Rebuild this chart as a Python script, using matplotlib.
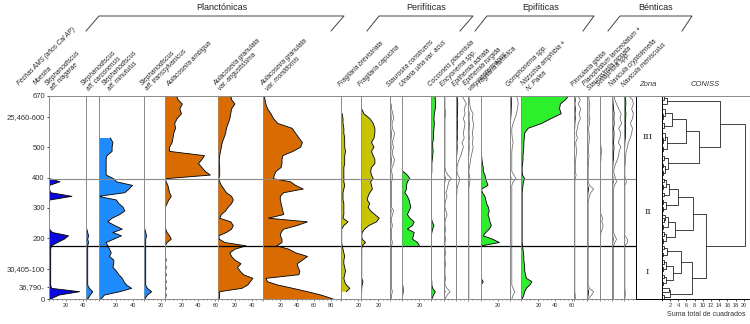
import numpy as np
import matplotlib
matplotlib.use("Agg")
import matplotlib.pyplot as plt
from matplotlib.lines import Line2D

plt.rcParams['font.family'] = ['Liberation Sans', 'DejaVu Sans']

nan = np.nan

# sample depths (cm)
depth = [0, 13, 24, 35, 46, 57, 68, 80, 92,
         104, 116, 128, 140, 152, 164, 175, 186, 197,
         208, 219, 230, 242, 254, 266, 278, 290, 302,
         314, 326, 338, 350, 362, 374, 386, 396, 408,
         420, 433, 446, 459, 472, 486, 500, 515, 530,
         546, 562, 578, 594, 610, 626, 642, 656, 670]

age_ticks = [0, 40, 100, 200, 300, 400, 500, 600, 670]
age_labels = ["0", "36,790-", "30,405-100", "200", "300", "400", "500", "25,460-600", "670"]

zone_bounds = [175, 395]
zone_names = ["I", "II", "III"]

# relative abundances (%)
s_niagarae = [2, 12, 36, 3, 2, 2, 2, 2, 2,
              2, 2, 2, 2, 2, 2, 3, 10, 18,
              23, 4, 0.5, nan, nan, nan, 0.5, 0.5, 0.5,
              0.5, 1, 27, 2, 0.5, 0.5, 13, 1, nan,
              nan, nan, nan, nan, nan, nan, nan, nan, nan,
              nan, nan, nan, nan, nan, nan, nan, nan, nan]
s_carconensis = [2, 5, 8, 4, 2, 2, 2, 2, 2,
                 2, 2, 2, 2, 2, 2, 2, 3, 2,
                 3, 2, 1, nan, nan, nan, nan, nan, nan,
                 nan, nan, nan, nan, nan, nan, nan, nan, nan,
                 nan, nan, nan, nan, nan, nan, nan, nan, nan,
                 nan, nan, nan, nan, nan, nan, nan, nan, nan]
s_minutulus = [3, 7, 25, 39, 33, 30, 28, 24, 21,
               17, 18, 18, 13, 15, 13, 11, 9, 18,
               27, 17, 28, 19, 11, 16, 25, 31, 29,
               24, 21, 0, 31, 36, 40, 21, 18, 9,
               9, 9, 9, 9, 10, 16, 16, 17, 14,
               nan, nan, nan, nan, nan, nan, nan, nan, nan]
s_transsylvanicus = [1, 4, 9, 4, 2, 2, 2, 2, 2,
                     2, 2, 2, 2, 2, 2, 2, 2, 2,
                     3, 2, 1, nan, nan, nan, nan, nan, nan,
                     nan, nan, nan, nan, nan, nan, nan, nan, nan,
                     nan, nan, nan, nan, nan, nan, nan, nan, nan,
                     nan, nan, nan, nan, nan, nan, nan, nan, nan]
a_ambigua = [1, 2, 1, 2, 1, 2, 1, 2, 1,
             2, 1, 2, 1, 1, 1, 1, 3, 8,
             6, 3, 1.5, 1, 1, 0.5, 0.5, 1, 1,
             3, 5, 8, 6, 5, 4, 2, 1, 54,
             48, 44, 40, 44, 47, 6, 6, 9, 10,
             11, 13, 12, 15, 20, 18, 21, 16, 14]
a_angustissima = [1.5, 2, 2, 28, 35, 38, 41, 30, 26,
                  23, 27, 20, 16, 14, 20, 33, 8, 1.5,
                  1, 10, 16, 18, 15, 2, 4, 9, 12,
                  16, 18, 16, 10, 7, 4, 2, 1, 2,
                  2, 2, 1.5, 1.5, 2, 3, 4, 5, 7,
                  9, 10, 12, 14, 15, 16, 20, 16, 15]
a_moniliformis = [82, 68, 52, 35, 17, 5, 3, 42, 43,
                  41, 40, 46, 52, 38, 30, 16, 22, 22,
                  20, 21, 24, 40, 52, 6, 24, 23, 22,
                  21, 20, 20, 24, 47, 38, 32, 12, 13,
                  15, 21, 22, 22, 23, 35, 44, 46, 42,
                  38, 34, 17, 12, 9, 5, 3, 2, 1]
f_brevistriata = [nan, nan, 6, 10, 6, 4, 3, 4, 5,
                  4, 3, 3, 4, 3, 2, 1, 0.5, 0.5,
                  0.5, 0.5, 0.5, 3, 8, 2, 3, 3, 3,
                  3, 2, 2, 2, 3, 4, 3, 3, 3,
                  3, 3, 4, 4, 4, 5, 4, 4, 4,
                  3, 3, 2, 2, 1, nan, nan, nan, nan]
f_capucina = [nan, nan, 0.5, 0.5, 1, 2, 0.5, 0.5, 0.5,
              0.5, 0.5, 0.5, 0.5, 0.5, 0.5, 1, 5, 1,
              0.5, 1, 4, 9, 18, 21, 16, 11, 8,
              10, 7, 8, 10, 13, 12, 11, 14, 12,
              11, 12, 16, 16, 14, 12, 15, 12, 15,
              16, 16, 14, 10, 3, 0.5, nan, nan, nan]
s_construens = [0.3, 0.3, 0.5, 0.3, 0.3, 0.3, 0.3, 0.3, 0.3,
                0.3, 0.3, 0.3, 0.3, 0.3, 0.3, 0.3, 0.5, 0.3,
                0.3, 0.3, 0.3, 0.5, 0.3, 0.3, 0.5, 0.8, 0.3,
                0.3, 0.3, 0.3, 0.3, 0.3, 0.3, 0.3, 0.5, 0.5,
                0.3, 0.4, 0.8, 1.0, 0.6, 0.5, 0.8, 0.4, 0.8,
                1.0, 0.5, 0.4, 0.8, 0.6, 0.3, 0.2, nan, nan]
u_ulna = [nan, 0.5, 1, 1, 0.5, nan, nan, nan, nan,
          nan, nan, nan, nan, nan, nan, 20, 18, 12,
          13, 14, 6, 12, 14, 9, 6, 8, 10,
          9, 8, 6, 3, 5, 5, 6, 9, 6,
          1, nan, nan, nan, nan, nan, nan, nan, nan,
          nan, nan, nan, nan, nan, nan, nan, nan, nan]
c_placentula = [1, 3, 5, 2, 1, 1, 0.5, 0.5, 0.5,
                0.5, 0.5, 0.5, 0.5, 0.5, 0.5, 0.5, 0.5, 0.5,
                0.5, 1, 2, 3.5, 1.5, 0.5, 0.5, 0.5, 0.5,
                0.5, 0.5, 0.5, 0.5, 0.5, 0.5, 0.5, 0.5, 0.5,
                1, 1, 1, 1.5, 2, 2.5, 2, 2, 3,
                3, 3.5, 4, 3.5, 4, 5, 5.5, 5, 5]
encyonema = [0.3, 0.8, 1.5, 0.8, 0.3, 0.3, 0.5, 0.3, 0.3,
             0.3, 0.5, 0.3, 0.3, 0.5, 0.3, 0.3, 0.3, 0.5,
             0.3, 0.3, 0.5, 0.3, 0.3, 0.5, 0.8, 0.5, 0.3,
             0.3, 0.5, 0.8, 0.5, 0.8, 1.0, 1.2, 1.8, 1.0,
             0.5, 0.3, 0.3, 0.3, 0.3, 0.3, 0.3, 0.3, 0.3,
             0.3, 0.3, 0.3, 0.3, 0.5, 0.3, 0.3, 0.3, 0.3]
e_adnata = [0.2, 0.2, 0.2, 0.2, 0.2, 0.2, 0.2, 0.2, 0.2,
            0.2, 0.2, 0.2, 0.2, 0.2, 0.2, 0.2, 0.2, 0.2,
            0.2, 0.2, 0.2, 0.2, 0.2, 0.2, 0.2, 0.2, 0.2,
            0.2, 0.2, 0.2, 0.3, 0.3, 0.5, 0.8, 1.0, 0.5,
            0.3, 0.3, 0.5, 0.8, 1.2, 1.5, 1.8, 1.5, 2.0,
            1.8, 2.0, 2.2, 1.8, 2.2, 2.0, 2.5, 2.0, 1.5]
e_turgida = [0.2, 0.2, 0.2, 0.2, 0.2, 0.2, 0.2, 0.2, 0.2,
             0.2, 0.2, 0.2, 0.2, 0.2, 0.2, 0.2, 0.2, 0.2,
             0.2, 0.2, 0.2, 0.2, 0.2, 0.2, 0.2, 0.2, 0.2,
             0.2, 0.2, 0.2, 0.2, 0.2, 0.3, 0.4, 0.5, 0.3,
             0.2, 0.3, 0.5, 0.6, 0.8, 1.0, 1.2, 1.0, 1.2,
             1.0, 1.2, 1.3, 1.0, 1.2, 0.6, 0.4, 0.3, 0.2]
f_famelica = [nan, nan, nan, nan, 0.5, 3, 0.5, nan, nan,
              nan, nan, nan, nan, nan, nan, 1, 22, 14,
              3, 6, 10, 12.5, 11, 10, 8.6, 10, 9,
              7, 6, 5, 2, 1, 8.6, 7, 6, 5,
              3, 3, 2, 1.5, 1, 0.5, nan, nan, nan,
              nan, nan, nan, nan, nan, nan, nan, nan, nan]
gomphonema = [0.5, 0.8, 1.2, 0.8, 0.5, 0.5, 0.5, 0.5, 0.5,
              0.5, 0.5, 0.5, 0.5, 0.5, 0.5, 0.5, 0.5, 0.5,
              0.5, 0.5, 0.5, 0.5, 0.5, 0.5, 0.5, 0.5, 0.5,
              0.5, 0.5, 0.5, 0.5, 0.5, 0.5, 0.8, 1.5, 1.0,
              0.5, 0.5, 0.5, 0.5, 0.5, 0.5, 0.6, 0.8, 0.6,
              0.5, 0.5, 0.8, 1.2, 1.6, 1.8, 2.0, 1.9, 1.5]
nitzschia = [1, 3, 4, 6, 10, 12.5, 6, 5, 4,
             4, 3.5, 3, 3, 2.5, 2, 1.5, 1, 1,
             1, 1, 1, 1, 1, 1, 1, 1, 1,
             1, 1, 1, 1, 1.5, 2, 2.5, 4, 1.5,
             1, 1, 1.5, 2, 2, 2.5, 3, 3, 3.5,
             4, 8, 24, 35, 47, 45, 46, 52, 56]
p_gibba = [0.3, 0.3, 0.2, 0.2, 0.2, 0.2, 0.2, 0.2, 0.2,
           0.2, 0.2, 0.2, 0.2, 0.2, 0.2, 0.2, 0.2, 0.2,
           0.2, 0.2, 0.2, 0.2, 0.2, 0.2, 0.2, 0.2, 0.2,
           0.2, 0.2, 0.2, 0.2, 0.2, 0.2, 0.2, 0.3, 0.5,
           0.3, 0.3, 0.3, 0.4, 0.5, 0.6, 0.5, 0.4, 0.8,
           0.5, 0.8, 1.0, 1.5, 1.2, 1.6, 1.0, 1.5, 0.8]
p_lanceolatum = [0.2, 1.0, 1.5, 0.5, 0.2, 0.2, 0.2, 0.2, 0.2,
                 0.2, 0.2, 0.2, 0.2, 0.2, 0.2, 0.2, 0.2, 0.2,
                 0.2, 0.2, 0.2, 0.2, 0.2, 0.2, 0.2, 0.2, 0.2,
                 0.2, 0.3, 0.5, 0.8, 1.5, 0.5, 0.2, 0.2, 0.2,
                 0.2, 0.2, 0.3, 0.3, 0.4, 0.3, 0.3, 0.4, 0.5,
                 0.4, 0.3, 0.5, 0.6, 0.4, 0.5, 0.6, 0.4, 0.3]
sellaphora = [0.2, 0.2, 0.2, 0.2, 0.2, 0.2, 0.2, 0.2, 0.2,
              0.2, 0.2, 0.2, 0.2, 0.2, 0.2, 0.2, 0.2, 0.2,
              0.2, 0.3, 0.6, 0.8, 0.5, 0.7, 0.3, 0.2, 0.2,
              0.2, 0.2, 0.2, 0.2, 0.2, 0.2, 0.2, 0.2, 0.2,
              0.2, 0.2, 0.2, 0.3, 0.3, 0.5, 0.3, 0.2, 0.2,
              0.2, 0.2, 0.2, 0.2, 0.2, 0.2, 0.2, 0.2, 0.2]
n_cryptotenella = [0.3, 0.3, 0.3, 0.3, 0.3, 0.3, 0.3, 0.3, 0.3,
                   0.3, 0.3, 0.3, 0.3, 0.3, 0.3, 0.3, 0.6, 1.0,
                   0.6, 0.3, 0.3, 0.3, 0.3, 0.3, 0.3, 0.3, 0.3,
                   0.3, 0.3, 0.3, 0.3, 0.3, 0.5, 1.0, 0.8, 0.5,
                   0.3, 0.5, 0.8, 1.2, 1.5, 1.6, 2.0, 1.4, 1.8,
                   2.0, 1.5, 2.2, 1.8, 2.1, 1.5, 1.0, 0.6, 0.4]
n_menisculus = [0.2, 0.3, 0.3, 0.2, 0.2, 0.2, 0.2, 0.2, 0.2,
                0.2, 0.2, 0.2, 0.2, 0.2, 0.2, 0.2, 0.8, 0.8,
                0.2, 0.2, 0.2, 0.2, 0.2, 0.2, 0.2, 0.2, 0.2,
                0.2, 0.2, 0.2, 0.2, 0.2, 0.2, 0.6, 0.3, 0.2,
                0.2, 0.2, 0.3, 0.3, 0.4, 0.5, 0.8, 1.0, 1.5,
                1.8, 2.0, 1.5, 2.0, 2.2, 1.8, 2.2, 2.0, 1.0]

# CONISS: (first sample, last sample, total sum of squares)
coniss_merges = [
    (0, 1, 0.5), (2, 3, 1.8), (0, 3, 2.0),
    (4, 5, 0.4), (6, 7, 0.5), (4, 7, 1.0), (8, 9, 0.4), (10, 11, 0.5), (8, 11, 1.1),
    (4, 11, 2.8), (12, 13, 0.4), (14, 15, 0.5), (12, 15, 1.2), (4, 15, 4.8), (0, 15, 7.4),
    (16, 17, 0.4), (18, 19, 0.5), (16, 19, 1.0), (20, 21, 0.4), (22, 23, 0.5), (22, 24, 0.9),
    (20, 24, 1.6), (16, 24, 3.2),
    (25, 26, 0.3), (27, 28, 0.4), (25, 28, 1.1), (29, 30, 0.5), (31, 32, 0.4), (33, 34, 0.6),
    (31, 34, 1.0), (29, 34, 1.8), (25, 34, 4.0), (16, 34, 7.7), (0, 34, 10.9),
    (35, 36, 0.3), (37, 38, 0.4), (35, 38, 0.8), (39, 40, 0.5), (35, 40, 1.6),
    (41, 42, 0.4), (43, 44, 0.3), (43, 45, 0.7), (41, 45, 1.2),
    (46, 47, 0.5), (48, 49, 0.4), (48, 50, 0.9), (46, 50, 2.4), (41, 50, 5.9),
    (35, 50, 9.1), (52, 53, 0.5), (51, 53, 1.2), (35, 53, 14.2), (0, 53, 20.3),
]

BLUE_D = '#0a0ae0'
BLUE_L = '#1e8cff'
ORANGE = '#d96b00'
OLIVE = '#c9c400'
GREEN = '#2cf02c'

# label, values, fill colour, exaggeration outline
taxa = [
    ("Stephanodiscus\naff. niagarae", s_niagarae, BLUE_D, False),
    ("Stephanodiscus\naff. carconensis", s_carconensis, BLUE_L, False),
    ("Stephanodiscus\naff. minutulus", s_minutulus, BLUE_L, False),
    ("Stephanodiscus\naff. transsylvanicus", s_transsylvanicus, BLUE_L, False),
    ("Aulacoseira ambigua", a_ambigua, ORANGE, False),
    ("Aulacoseira granulata\nvar. angustissima", a_angustissima, ORANGE, False),
    ("Aulacoseira granulata\nvar. monilifornis", a_moniliformis, ORANGE, False),
    ("Fragilaria brevistriata", f_brevistriata, OLIVE, False),
    ("Fragilaria capucina", f_capucina, OLIVE, False),
    ("Staurosira construens", s_construens, None, True),
    ("Ulnaria ulna var. acus", u_ulna, GREEN, False),
    ("Cocconeis placentula", c_placentula, GREEN, False),
    ("Encyonema spp.", encyonema, None, True),
    ("Epithemia adnata", e_adnata, GREEN, True),
    ("Epithemia turgida\nvar. westermannii", e_turgida, None, True),
    ("Fragilaria famelica", f_famelica, GREEN, False),
    ("Gomphonema spp.", gomphonema, GREEN, True),
    ("Nitzschia amphibia +\nN. Palea", nitzschia, GREEN, False),
    ("Pinnularia gibba", p_gibba, None, True),
    ("Planothidium lanceolatum +\nStaurosirella pinnata", p_lanceolatum, None, True),
    ("Sellaphora spp.", sellaphora, None, True),
    ("Navicula cryptotenella", n_cryptotenella, None, True),
    ("Navicula menisculus", n_menisculus, GREEN, True),
]

# ---- layout (pixels) ----
W, H = 750, 324
TOP, BOTTOM = 95.5, 299
PX_PER_UNIT = 0.85
EXAG = 5
edges = [49, 86, 98.5, 144, 164.5, 218, 263.3, 341.3, 361.3, 390.3, 402.3, 431,
         443.7, 455.7, 468, 480.7, 509.7, 521.3, 574, 587.3, 599.7, 612.3, 624, 636]
# where the first line of each rotated name starts
label_x = [50, 86, 107, 145, 170, 218, 265, 342, 362, 390, 403, 432,
           444, 456, 468, 480, 510, 526, 575, 587, 600, 613, 625]
ZONE_X = (636, 661.7)
CONISS_X = (661.7, 750)
CONISS_PX = 4.1


def fx(x):
    return x / W


def fy(y):
    return 1 - y / H


fig = plt.figure(figsize=(7.5, 3.24), dpi=100)


def make_ax(x0, x1):
    ax = fig.add_axes([fx(x0), fy(BOTTOM), (x1 - x0) / W, (BOTTOM - TOP) / H])
    ax.set_ylim(0, 670)
    ax.patch.set_alpha(0)
    ax.spines['right'].set_visible(False)
    for s in ('left', 'top', 'bottom'):
        ax.spines[s].set_color('#8a8a8a')
        ax.spines[s].set_linewidth(0.7)
    return ax


dep = np.array(depth, float)
for i, (label, vals, color, exag) in enumerate(taxa):
    x0, x1 = edges[i], edges[i + 1]
    ax = make_ax(x0, x1)
    xmax = (x1 - x0) / PX_PER_UNIT
    ax.set_xlim(0, xmax)
    v = np.array(vals, float)
    if color:
        ax.fill_betweenx(dep, 0, v, facecolor=color, edgecolor='none', lw=0)
    if exag:
        ax.plot(v * EXAG, dep, color='#5a5a5a', lw=0.5)
    ax.plot(v, dep, color='k', lw=0.6)
    ax.axhline(zone_bounds[1], color='#8a8a8a', lw=0.8)
    ax.axhline(zone_bounds[0], color='k', lw=0.9)

    major = np.arange(0, xmax + 0.01, 20)
    ax.set_xticks(major)
    ax.set_xticklabels([''] + [f"{int(t)}" for t in major[1:]])
    ax.set_xticks(np.arange(0, xmax + 0.01, 5), minor=True)
    ax.tick_params(axis='x', which='both', labelsize=4, length=1.5, width=0.5,
                   pad=1.5, color='#555555', labelcolor='#333333')
    ax.tick_params(axis='x', which='minor', length=1)
    if i == 0:
        ax.set_yticks(age_ticks)
        ax.set_yticklabels(age_labels)
        ax.tick_params(axis='y', labelsize=5.5, length=1.5, width=0.5, pad=1.5,
                       labelcolor='#333333')
    else:
        ax.set_yticks([])

    # rotated taxon names (anchor = start of the last line)
    nl = label.count('\n')
    fig.text(fx(label_x[i] + 4 * nl), fy(88 + 4 * nl), label, rotation=45,
             rotation_mode='anchor', ha='left', va='bottom', fontsize=4.7,
             style='italic', color='#222222', linespacing=0.95)

# left header columns
fig.text(fx(21), fy(87), "Fechas AMS (años Cal AP)", rotation=45, rotation_mode='anchor',
         ha='left', va='bottom', fontsize=4.7, style='italic', color='#222222')
fig.text(fx(37), fy(86), "Muestra", rotation=45, rotation_mode='anchor',
         ha='left', va='bottom', fontsize=4.7, style='italic', color='#222222')

# zone column
zax = make_ax(*ZONE_X)
zax.set_xticks([])
zax.set_yticks([])
zax.set_xlim(0, 1)
zax.spines['left'].set_color('k')
zax.spines['bottom'].set_color('k')
zb = [0] + zone_bounds + [670]
for k, name in enumerate(zone_names):
    zax.text(0.45, (zb[k] + zb[k + 1]) / 2, name, ha='center', va='center',
             fontsize=6, color='#222222', family='DejaVu Serif')
fig.text(fx(648), fy(88), "Zona", ha='center', va='bottom', fontsize=5.5, style='italic',
         color='#333333')

# CONISS dendrogram
cax = make_ax(*CONISS_X)
cax.set_xlim(0, (CONISS_X[1] - CONISS_X[0]) / CONISS_PX)
cax.spines['left'].set_color('k')
cax.spines['bottom'].set_color('k')
cax.set_yticks([])
cticks = np.arange(0, 21, 2)
cax.set_xticks(cticks)
cax.set_xticklabels([''] + [str(t) for t in cticks[1:]])
cax.tick_params(axis='x', labelsize=4, length=1.5, width=0.5, pad=1.5, labelcolor='#333333')
cax.set_xlabel("Suma total de cuadrados", fontsize=5, labelpad=2, color='#333333')
merge_h = {(a, b): h for a, b, h in coniss_merges}


def draw_node(a, b):
    if a == b:
        return dep[a], 0.0
    h = merge_h[(a, b)]
    m = max([q for (p, q) in merge_h if p == a and q < b], default=a)
    y1, h1 = draw_node(a, m)
    y2, h2 = draw_node(m + 1, b)
    cax.plot([h1, h, h, h2], [y1, y1, y2, y2], color='#222222', lw=0.6)
    return (y1 + y2) / 2, h


draw_node(0, len(depth) - 1)
fig.text(fx(705), fy(88), "CONISS", ha='center', va='bottom', fontsize=5.5, style='italic',
         color='#333333')

# ecological group brackets
groups = [
    ("Planctónicas", 86, 99, 344, 331),
    ("Perifíticas", 367, 379, 473, 460),
    ("Epifíticas", 475, 487, 594, 583),
    ("Bénticas", 608, 620, 692, 682),
]
for name, a, b, c, d in groups:
    fig.add_artist(Line2D([fx(a), fx(b), fx(c), fx(d)], [fy(31), fy(16), fy(16), fy(31)],
                          color='#444444', lw=0.7))
    fig.text(fx((b + c) / 2), fy(8), name, ha='center', va='center', fontsize=6.5,
             color='#222222')

fig.savefig("out.png", dpi=100)
